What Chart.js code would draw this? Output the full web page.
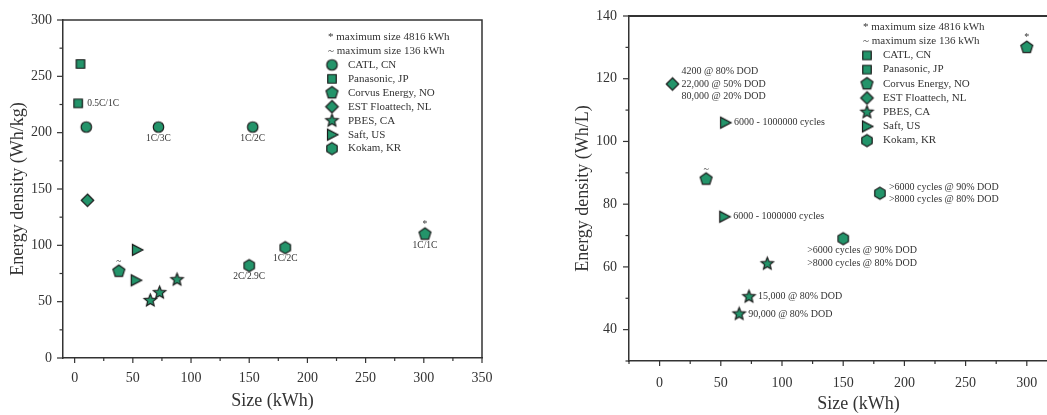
<!DOCTYPE html>
<html>
<head>
<meta charset="utf-8">
<script src="https://cdn.jsdelivr.net/npm/chart.js@4.4.1/dist/chart.umd.min.js"></script>
<style>
  html, body { margin: 0; padding: 0; background: #fff; overflow: hidden; }
  #wrap { position: relative; width: 1047px; height: 415px; overflow: hidden; }
  #massChart { position: absolute; left: 0; top: 0; }
  #volChart { position: absolute; left: 530px; top: 0; }
</style>
</head>
<body>
<div id="wrap">
  <canvas id="massChart" width="500" height="415"></canvas>
  <canvas id="volChart" width="580" height="415"></canvas>
</div>
<script>
"use strict";

// ---- data ----
let makerNames = ["CATL, CN", "Panasonic, JP", "Corvus Energy, NO", "EST Floattech, NL", "PBES, CA", "Saft, US", "Kokam, KR"];
let footNotes = ["* maximum size 4816 kWh", "~ maximum size 136 kWh"];

// gravimetric (Wh/kg)
let massCatlX = [10, 72, 153];
let massCatlY = [205, 205, 205];
let massPanaX = [5, 3];
let massPanaY = [261, 226];
let massCorvusX = [38, 301];
let massCorvusY = [77, 110];
let massEstX = [11];
let massEstY = [140];
let massPbesX = [65, 73, 88];
let massPbesY = [51, 58, 69.5];
let massSaftX = [53.5, 52.5];
let massSaftY = [96, 69];
let massKokamX = [150, 181];
let massKokamY = [82, 98];

// volumetric (Wh/L)
let volCorvusX = [38, 300];
let volCorvusY = [88, 130];
let volEstX = [10.5];
let volEstY = [118.3];
let volSaftX = [53.5, 52.8];
let volSaftY = [106, 76];
let volKokamX = [180, 150];
let volKokamY = [83.5, 69];
let volPbesX = [88, 73, 65];
let volPbesY = [61, 50.5, 45];

// point notes: [series, point, text lines, placement]
let massNotes = [
    [0, 1, ["1C/3C"], "below"],
    [0, 2, ["1C/2C"], "below"],
    [1, 1, ["0.5C/1C"], "right"],
    [2, 0, ["~"], "above"],
    [2, 1, ["*"], "above"],
    [2, 1, ["1C/1C"], "below"],
    [6, 0, ["2C/2.9C"], "below"],
    [6, 1, ["1C/2C"], "below"]
];
let volNotes = [
    [0, 0, ["~"], "above"],
    [0, 1, ["*"], "above"],
    [1, 0, ["4200 @ 80% DOD", "22,000 @ 50% DOD", "80,000 @ 20% DOD"], "right"],
    [2, 0, ["6000 - 1000000 cycles"], "right"],
    [2, 1, ["6000 - 1000000 cycles"], "right"],
    [3, 0, [">6000 cycles @ 90% DOD", ">8000 cycles @ 80% DOD"], "right"],
    [3, 1, [">6000 cycles @ 90% DOD", ">8000 cycles @ 80% DOD"], "belowLeft"],
    [4, 1, ["15,000 @ 80% DOD"], "right"],
    [4, 2, ["90,000 @ 80% DOD"], "right"]
];

// ---- markers ----
let fillGreen = "#23946a";
let edgeDark = "#1b1b1b";
let textColor = "#333333";
let fontFamily = "'Liberation Serif', 'Times New Roman', serif";

function polygon(ctx, n, r, start)
{
    ctx.beginPath();
    for (let i = 0; i < n; i++)
    {
        let a = start + i * 2 * Math.PI / n;
        let px = r * Math.cos(a);
        let py = r * Math.sin(a);
        if (i === 0) ctx.moveTo(px, py); else ctx.lineTo(px, py);
    }
    ctx.closePath();
}

function makeMarker(shape, size)
{
    let c = document.createElement("canvas");
    let s = Math.ceil(size + 4);
    c.width = s;
    c.height = s;
    let ctx = c.getContext("2d");
    ctx.translate(s / 2, s / 2);
    let r = size / 2;
    if (shape === "circle")
    {
        ctx.beginPath();
        ctx.arc(0, 0, r, 0, Math.PI * 2);
    }
    else if (shape === "square")
    {
        ctx.beginPath();
        ctx.rect(-r * 0.85, -r * 0.85, r * 1.7, r * 1.7);
    }
    else if (shape === "pentagon")
    {
        polygon(ctx, 5, r, -Math.PI / 2);
    }
    else if (shape === "diamond")
    {
        polygon(ctx, 4, r, -Math.PI / 2);
    }
    else if (shape === "hexagon")
    {
        polygon(ctx, 6, r, -Math.PI / 2);
    }
    else if (shape === "star")
    {
        ctx.beginPath();
        for (let i = 0; i < 10; i++)
        {
            let rr = (i % 2 === 0) ? r : r * 0.45;
            let a = -Math.PI / 2 + i * Math.PI / 5;
            if (i === 0) ctx.moveTo(rr * Math.cos(a), rr * Math.sin(a));
            else ctx.lineTo(rr * Math.cos(a), rr * Math.sin(a));
        }
        ctx.closePath();
    }
    else if (shape === "triangle")
    {
        ctx.beginPath();
        ctx.moveTo(r, 0);
        ctx.lineTo(-r * 0.75, -r * 0.9);
        ctx.lineTo(-r * 0.75, r * 0.9);
        ctx.closePath();
    }
    ctx.fillStyle = fillGreen;
    ctx.fill();
    ctx.lineWidth = 1.2;
    ctx.strokeStyle = edgeDark;
    ctx.stroke();
    return c;
}

let mk = {
    circle: makeMarker("circle", 10.5),
    square: makeMarker("square", 10),
    pentagon: makeMarker("pentagon", 12.5),
    diamond: makeMarker("diamond", 12.5),
    star: makeMarker("star", 13),
    triangle: makeMarker("triangle", 12),
    hexagon: makeMarker("hexagon", 12)
};

function pts(xs, ys)
{
    let out = [];
    for (let i in xs) out.push({ x: xs[i], y: ys[i] });
    return out;
}

function series(name, xs, ys, marker)
{
    return {
        label: name,
        data: pts(xs, ys),
        pointStyle: marker,
        pointRadius: 6,
        pointHoverRadius: 6
    };
}

// ---- decorations: frame, ticks, legend, notes ----
let decoPlugin = {
    id: "deco",
    afterDraw(chart)
    {
        let o = chart.options.plugins.deco;
        let ctx = chart.ctx;
        let a = chart.chartArea;
        ctx.save();

        // frame
        ctx.strokeStyle = "#333";
        ctx.lineWidth = o.frameWidth;
        ctx.beginPath();
        ctx.moveTo(a.left, a.top);
        ctx.lineTo(a.right, a.top);
        ctx.lineTo(a.right, a.bottom);
        ctx.stroke();

        // ticks
        ctx.lineWidth = 1.2;
        let xs = chart.scales.x;
        xs.ticks.forEach(function (t)
        {
            if (t.value % 25 !== 0) return;
            let px = xs.getPixelForValue(t.value);
            let len = (t.value % 50 === 0) ? 5 : 3;
            ctx.beginPath();
            ctx.moveTo(px, a.bottom);
            ctx.lineTo(px, a.bottom + len);
            ctx.stroke();
        });
        let ys = chart.scales.y;
        ys.ticks.forEach(function (t)
        {
            if (t.value % o.yMinor !== 0) return;
            let py = ys.getPixelForValue(t.value);
            let len = (t.value % o.yMajor === 0) ? 6 : 3.5;
            ctx.beginPath();
            ctx.moveTo(a.left, py);
            ctx.lineTo(a.left - len, py);
            ctx.stroke();
        });

        // legend
        ctx.fillStyle = textColor;
        ctx.textBaseline = "middle";
        ctx.textAlign = "left";
        ctx.font = "11px " + fontFamily;
        footNotes.forEach(function (n, i)
        {
            ctx.fillText(n, o.legX, o.legY + i * o.legStep);
        });
        makerNames.forEach(function (n, i)
        {
            let y = o.legY + (i + 2) * o.legStep;
            let m = o.legMarkers[i];
            ctx.drawImage(m, o.legX + 4 - m.width / 2, y - m.height / 2);
            ctx.fillText(n, o.legX + 20, y);
        });

        // point notes
        ctx.font = o.noteFont + "px " + fontFamily;
        let lh = o.noteFont * 1.25;
        o.notes.forEach(function (n)
        {
            let el = chart.getDatasetMeta(n[0]).data[n[1]];
            let lines = n[2];
            let place = n[3];
            lines.forEach(function (s, i)
            {
                if (place === "right")
                {
                    ctx.textAlign = "left";
                    ctx.fillText(s, el.x + 9, el.y + (i - (lines.length - 1) / 2) * lh);
                }
                else if (place === "below")
                {
                    ctx.textAlign = "center";
                    ctx.fillText(s, el.x, el.y + 11 + i * lh);
                }
                else if (place === "belowLeft")
                {
                    ctx.textAlign = "left";
                    ctx.fillText(s, el.x - 36, el.y + 12 + i * lh);
                }
                else if (place === "above")
                {
                    ctx.textAlign = "center";
                    ctx.fillText(s, el.x, el.y - 10);
                }
            });
        });
        ctx.restore();
    }
};

function axis(min, max, step, major, title, fitSize, tickPad, titlePad)
{
    return {
        type: "linear",
        min: min,
        max: max,
        border: { display: true, color: "#333", width: 1.5 },
        grid: { display: true, drawOnChartArea: false, drawTicks: true, tickLength: 6, tickColor: "rgba(0,0,0,0)" },
        ticks: {
            stepSize: step,
            includeBounds: false,
            autoSkip: false,
            maxRotation: 0,
            padding: tickPad,
            color: textColor,
            font: { family: fontFamily, size: 14 },
            callback: function (v) { return (v % major === 0) ? String(v) : ""; }
        },
        title: {
            display: true,
            text: title,
            color: textColor,
            font: { family: fontFamily, size: 18 },
            padding: titlePad
        },
        afterFit: function (scale) { if (scale.isHorizontal()) scale.height = fitSize; else scale.width = fitSize; }
    };
}

let massChart = new Chart(document.getElementById("massChart").getContext("2d"), {
    type: "scatter",
    data: {
        datasets: [
            series(makerNames[0], massCatlX, massCatlY, mk.circle),
            series(makerNames[1], massPanaX, massPanaY, mk.square),
            series(makerNames[2], massCorvusX, massCorvusY, mk.pentagon),
            series(makerNames[3], massEstX, massEstY, mk.diamond),
            series(makerNames[4], massPbesX, massPbesY, mk.star),
            series(makerNames[5], massSaftX, massSaftY, mk.triangle),
            series(makerNames[6], massKokamX, massKokamY, mk.hexagon)
        ]
    },
    options: {
        responsive: false,
        animation: false,
        events: [],
        layout: { padding: { left: 0, top: 20, right: 18, bottom: 0 } },
        scales: {
            x: axis(-10, 350, 25, 50, "Size (kWh)", 57, 6, { top: 0, bottom: 3 }),
            y: axis(0, 300, 25, 50, "Energy density (Wh/kg)", 63, 5, { top: 7, bottom: 0 })
        },
        plugins: {
            legend: { display: false },
            tooltip: { enabled: false },
            deco: {
                frameWidth: 1.5,
                yMinor: 25, yMajor: 50,
                legX: 328, legY: 37, legStep: 13.95,
                legMarkers: [mk.circle, mk.square, mk.pentagon, mk.diamond, mk.star, mk.triangle, mk.hexagon],
                noteFont: 9.5,
                notes: massNotes
            }
        }
    },
    plugins: [decoPlugin]
});

let volChart = new Chart(document.getElementById("volChart").getContext("2d"), {
    type: "scatter",
    data: {
        datasets: [
            series(makerNames[2], volCorvusX, volCorvusY, mk.pentagon),
            series(makerNames[3], volEstX, volEstY, mk.diamond),
            series(makerNames[5], volSaftX, volSaftY, mk.triangle),
            series(makerNames[6], volKokamX, volKokamY, mk.hexagon),
            series(makerNames[4], volPbesX, volPbesY, mk.star)
        ]
    },
    options: {
        responsive: false,
        animation: false,
        events: [],
        layout: { padding: { left: 42, top: 16, right: 22, bottom: 0 } },
        scales: {
            x: axis(-25, 350, 25, 50, "Size (kWh)", 54, 8, { top: 0, bottom: 0 }),
            y: axis(30, 140, 10, 20, "Energy density (Wh/L)", 57, 6, { top: 0, bottom: 0 })
        },
        plugins: {
            legend: { display: false },
            tooltip: { enabled: false },
            deco: {
                frameWidth: 2,
                yMinor: 10, yMajor: 20,
                legX: 333, legY: 27, legStep: 14.2,
                legMarkers: [mk.square, mk.square, mk.pentagon, mk.diamond, mk.star, mk.triangle, mk.hexagon],
                noteFont: 10,
                notes: volNotes
            }
        }
    },
    plugins: [decoPlugin]
});
</script>
</body>
</html>
